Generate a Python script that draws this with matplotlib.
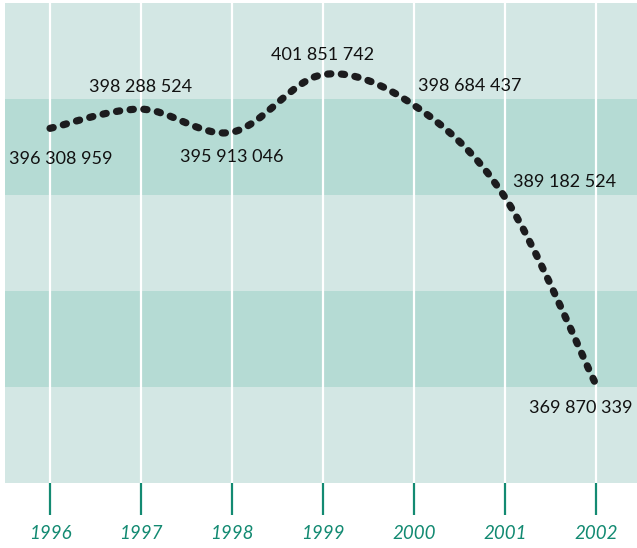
import matplotlib
matplotlib.use("Agg")
import matplotlib.pyplot as plt
from matplotlib.patches import Rectangle, PathPatch
from matplotlib.path import Path
import numpy as np

# --- DATA ---
years = [1996, 1997, 1998, 1999, 2000, 2001, 2002]
values = [396308959, 398288524, 395913046, 401851742, 398684437, 389182524, 369870339]
labels = ["396 308 959", "398 288 524", "395 913 046", "401 851 742",
          "398 684 437", "389 182 524", "369 870 339"]

# label placement (offset in points, horizontal alignment)
label_pos = [(8, -22, "center"), (0, 16, "center"), (0, -18, "center"),
             (0, 14, "center"), (3, 14, "left"), (6, 11, "left"), (-11, -17, "center")]

LIGHT = "#d3e7e4"
DARK = "#b5dbd4"
TEAL = "#138a72"
INK = "#1c1c1e"

plt.rcParams['font.family'] = ['Lato', 'DejaVu Sans']

fig = plt.figure(figsize=(6.37, 5.48), dpi=100)
ax = fig.add_axes([5 / 637, 65 / 548, 632 / 637, 480 / 548])

# horizontal bands (decoration)
for i in range(5):
    ax.add_patch(Rectangle((0, i / 5), 1, 0.2, transform=ax.transAxes,
                           facecolor=LIGHT if i % 2 == 0 else DARK,
                           edgecolor="none", zorder=0))

ax.set_xlim(1995.505, 2002.45)
ax.set_ylim(359.75e6, 409.23e6)

for yr in years:
    ax.axvline(yr, color="white", lw=1.6, zorder=1)

# smooth curve through the points (Catmull-Rom -> cubic bezier)
pts = np.column_stack([years, values]).astype(float)
ext = np.vstack([pts[0], pts, pts[-1]])
verts = [tuple(pts[0])]
codes = [Path.MOVETO]
for i in range(1, len(ext) - 2):
    p0, p1, p2, p3 = ext[i - 1], ext[i], ext[i + 1], ext[i + 2]
    c1 = p1 + (p2 - p0) / 6
    c2 = p2 - (p3 - p1) / 6
    verts += [tuple(c1), tuple(c2), tuple(p2)]
    codes += [Path.CURVE4] * 3
curve = PathPatch(Path(verts, codes), fill=False, edgecolor=INK, lw=5.2,
                  linestyle=(0, (0.45, 1.45)), capstyle="round", zorder=3)
curve.set_joinstyle("round")
ax.add_patch(curve)

for yr, v, txt, (dx, dy, ha) in zip(years, values, labels, label_pos):
    ax.annotate(txt, (yr, v), xytext=(dx, dy), textcoords="offset points",
                ha=ha, va="center", fontsize=13, color="#111111", zorder=4)

for s in ax.spines.values():
    s.set_visible(False)
ax.set_yticks([])
ax.set_xticks(years)
ax.set_xticklabels([str(y) for y in years], fontsize=13.5, style="italic", color=TEAL)
ax.tick_params(axis="x", direction="out", length=23, width=1.6, color=TEAL, pad=7)

fig.savefig("out.png", dpi=100)
